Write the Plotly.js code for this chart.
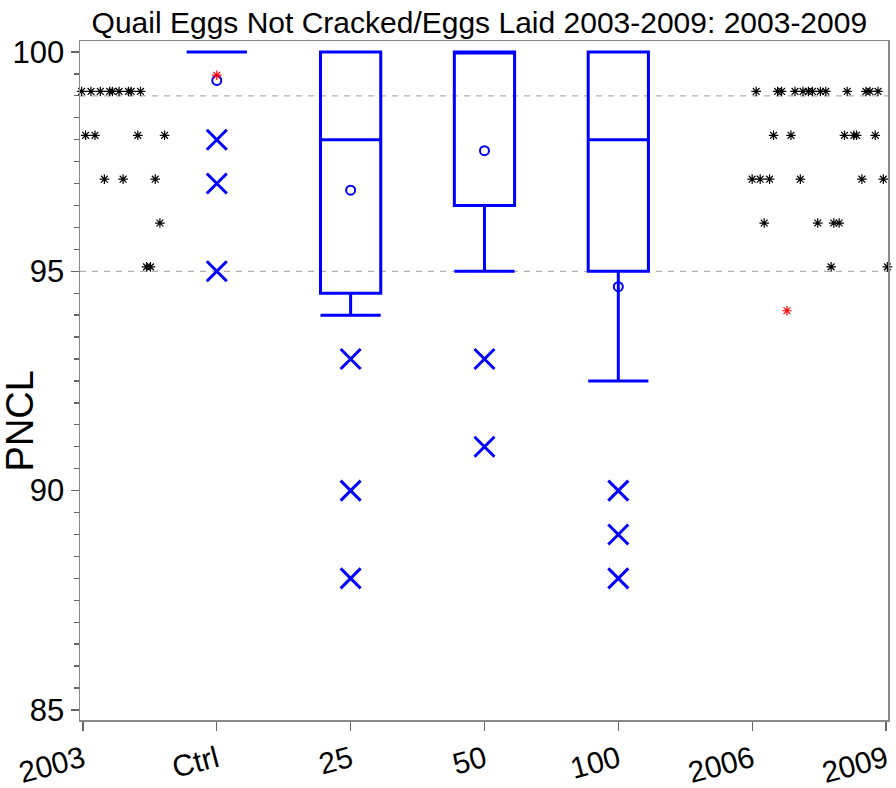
<!DOCTYPE html>
<html><head><meta charset="utf-8">
<script src="https://cdn.plot.ly/plotly-3.0.1.min.js"></script>
<style>body{margin:0;background:#fff}#chart{width:896px;height:788px}</style>
</head><body><div id="chart"></div>
<script>
// Category positions and tick labels
const tickPos = [0, 1, 2, 3, 4, 5, 6];
const tickLabels = ['2003', 'Ctrl', '25', '50', '100', '2006', '2009'];

// Box statistics (Ctrl, 25, 50, 100)
const boxX = [1, 2, 3, 4];
const boxQ1 = [100, 94.5, 96.5, 95];
const boxMedian = [100, 98, 100, 98];
const boxQ3 = [100, 100, 100, 100];
const boxLower = [100, 94, 95, 92.5];
const boxUpper = [100, 100, 100, 100];
const boxMean = [99.35, 96.85, 97.75, 94.65];

// Outliers
const outX = [1, 1, 1, 2, 2, 2, 3, 3, 4, 4, 4];
const outY = [98, 97, 95, 93, 90, 88, 93, 91, 90, 89, 88];

// Yearly observations (black stars), left period
const leftX = [-0.01, 0.06, 0.13, 0.20, 0.22, 0.27, 0.34, 0.36, 0.43,
               0.02, 0.09, 0.41, 0.61,
               0.16, 0.30, 0.54,
               0.575,
               0.475, 0.505];
const leftY = [99.1, 99.1, 99.1, 99.1, 99.1, 99.1, 99.1, 99.1, 99.1,
               98.1, 98.1, 98.1, 98.1,
               97.1, 97.1, 97.1,
               96.1,
               95.1, 95.1];
// right period
const rightX = [5.03, 5.19, 5.22, 5.32, 5.38, 5.42, 5.45, 5.51, 5.55, 5.71, 5.85, 5.88, 5.94,
                5.16, 5.29, 5.69, 5.76, 5.78, 5.92,
                5.0, 5.06, 5.13, 5.36, 5.82, 5.98,
                5.09, 5.49, 5.61, 5.65,
                5.59, 6.01];
const rightY = [99.1, 99.1, 99.1, 99.1, 99.1, 99.1, 99.1, 99.1, 99.1, 99.1, 99.1, 99.1, 99.1,
                98.1, 98.1, 98.1, 98.1, 98.1, 98.1,
                97.1, 97.1, 97.1, 97.1, 97.1, 97.1,
                96.1, 96.1, 96.1, 96.1,
                95.1, 95.1];
// red stars
const redX = [1, 5.26];
const redY = [99.47, 94.1];

const refLines = [95, 99];

const blue = '#0000ff';
const traces = [];
traces.push({
  type: 'box', x: boxX, q1: boxQ1, median: boxMedian, q3: boxQ3,
  lowerfence: boxLower, upperfence: boxUpper,
  width: 0.45, whiskerwidth: 1, boxpoints: false,
  line: {color: blue, width: 3}, fillcolor: 'rgba(0,0,0,0)',
  hoverinfo: 'skip', showlegend: false
});
traces.push({type: 'scatter', mode: 'markers', x: outX, y: outY,
  marker: {symbol: 'x-thin-open', size: 20, line: {color: blue, width: 3}, color: blue},
  showlegend: false, cliponaxis: false});
traces.push({type: 'scatter', mode: 'markers', x: boxX, y: boxMean,
  marker: {symbol: 'circle-open', size: 9, line: {color: blue, width: 2}, color: blue},
  showlegend: false});
traces.push({type: 'scatter', mode: 'markers', x: leftX.concat(rightX), y: leftY.concat(rightY),
  marker: {symbol: 'asterisk-open', size: 8, line: {color: '#000', width: 1.2}, color: '#000'},
  showlegend: false, cliponaxis: false});
traces.push({type: 'scatter', mode: 'markers', x: redX, y: redY,
  marker: {symbol: 'asterisk-open', size: 8, line: {color: '#ff0000', width: 1.2}, color: '#ff0000'},
  showlegend: false});

const shapes = refLines.map(v => ({type: 'line', xref: 'paper', x0: 0, x1: 1, y0: v, y1: v,
  line: {color: '#b0b0b0', width: 1.3, dash: '6px,6px'}, layer: 'below'}));

const font = "'Liberation Sans', Arial, sans-serif";
const layout = {
  width: 896, height: 788,
  margin: {l: 80, r: 8, t: 41, b: 68},
  paper_bgcolor: '#fff', plot_bgcolor: '#fff',
  title: {text: 'Quail Eggs Not Cracked/Eggs Laid 2003-2009: 2003-2009',
    font: {family: font, size: 30, color: '#000'}, x: 0.535, xanchor: 'center', y: 0.985, yanchor: 'top'},
  xaxis: {range: [-0.022, 6.015], tickvals: tickPos, ticktext: tickLabels, tickangle: -15,
    ticks: 'outside', ticklen: 9, tickcolor: '#666', tickwidth: 1.3,
    showline: true, linecolor: '#888', linewidth: 1.5, mirror: true, showgrid: false, zeroline: false,
    tickfont: {family: font, size: 30, color: '#000'}},
  yaxis: {range: [84.77, 100.25], tickvals: [85, 90, 95, 100],
    ticks: 'outside', ticklen: 8, tickcolor: '#666', tickwidth: 1.3,
    minor: {dtick: 0.5, tick0: 85, ticks: 'outside', ticklen: 5, tickcolor: '#666', showgrid: false},
    showline: true, linecolor: '#888', linewidth: 1.5, mirror: true, showgrid: false, zeroline: false,
    tickfont: {family: font, size: 31, color: '#000'}},
  annotations: [{text: 'PNCL', xref: 'paper', yref: 'paper', x: -0.074, xanchor: 'center',
    y: 0.44, yanchor: 'middle', textangle: -90, showarrow: false,
    font: {family: font, size: 38, color: '#000'}}],
  shapes: shapes
};
Plotly.newPlot('chart', traces, layout, {displayModeBar: false, staticPlot: true});
</script></body></html>
